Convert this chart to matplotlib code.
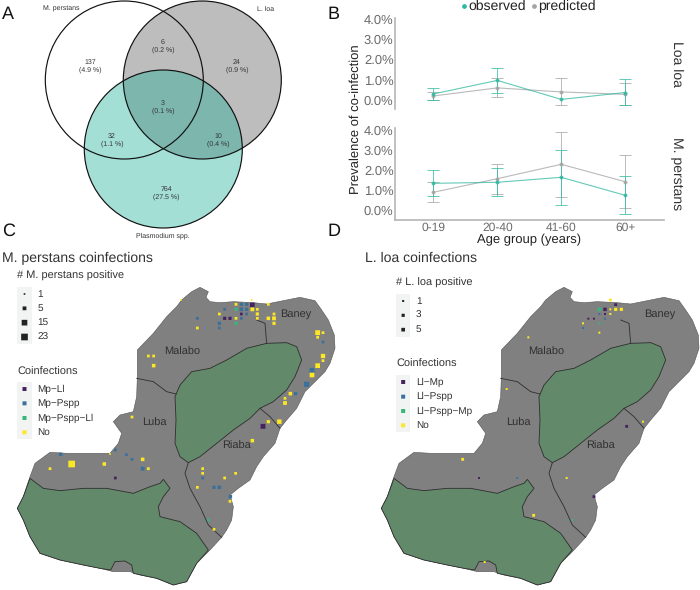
import matplotlib
matplotlib.use("Agg")
import matplotlib.pyplot as plt
from matplotlib.patches import Circle, Polygon, Rectangle
from matplotlib.lines import Line2D
import numpy as np

plt.rcParams['font.family'] = ['Liberation Sans', 'DejaVu Sans']
plt.rcParams['text.hinting'] = 'no_hinting'
plt.rcParams['text.hinting_factor'] = 1
W, H = 700, 590

# ---------- Venn data ----------
venn_sets = ["M. perstans", "L. loa", "Plasmodium spp."]
venn_counts = ["137\n(4.9 %)", "6\n(0.2 %)", "24\n(0.9 %)", "3\n(0.1 %)", "32\n(1.1 %)", "10\n(0.4 %)", "764\n(27.5 %)"]
venn_count_pos = [(90.5, 66), (163, 46), (237, 66), (163, 107), (112, 140), (218, 140), (166, 193)]
venn_centres = [(124.3, 80), (202.3, 80), (163.3, 149)]
venn_radius = 79

# ---------- Line panel data ----------
age_groups = ["0-19", "20-40", "41-60", "60+"]
loa_obs = [0.30, 0.97, 0.03, 0.37]
loa_obs_lo = [0.00, 0.37, 0.03, -0.27]
loa_obs_hi = [0.58, 1.57, 0.03, 1.03]
loa_pred = [0.20, 0.60, 0.40, 0.28]
loa_pred_lo = [0.00, 0.13, -0.27, -0.27]
loa_pred_hi = [0.42, 1.08, 1.08, 0.83]
mp_obs = [1.32, 1.37, 1.62, 0.72]
mp_obs_lo = [0.67, 0.67, 0.23, -0.23]
mp_obs_hi = [1.97, 2.07, 3.00, 1.67]
mp_pred = [0.87, 1.55, 2.27, 1.40]
mp_pred_lo = [0.37, 0.77, 0.63, 0.07]
mp_pred_hi = [1.40, 2.30, 3.90, 2.72]
y_ticks = [0, 1, 2, 3, 4]

# ---------- Map geometry ----------
island = [(545,60),(575,35),(600,22),(625,35),(618,52),(630,65),(660,68),(700,65),(760,68),(800,72),(850,62),
          (900,52),(945,62),(965,90),(985,120),(1003,165),(1005,205),(990,250),(975,275),(945,305),(915,335),
          (890,385),(860,420),(840,445),(825,490),(790,530),(770,560),(750,600),(715,625),(690,645),(700,680),
          (695,720),(680,750),(665,772),(630,810),(590,850),(560,905),(520,915),(470,895),(420,885),(390,875),
          (340,875),(300,865),(250,855),(180,840),(120,820),(90,770),(70,720),(52,685),(70,650),(90,590),
          (105,550),(150,517),(200,520),(280,520),(330,520),(355,490),(365,460),(340,425),(360,405),(400,395),
          (410,350),(412,290),(412,210),(460,160),(500,110),(530,80)]
north_reserve = [(800,190),(860,188),(890,200),(905,240),(885,290),(860,330),(820,365),(780,385),(750,415),(700,450),
                 (650,490),(600,530),(565,548),(540,530),(525,490),(528,420),(525,350),(540,315),(575,275),(630,265),
                 (680,240),(740,205)]
south_reserve = [(90,595),(130,625),(180,632),(250,625),(320,625),(400,640),(450,620),(480,610),(490,598),(510,625),
                 (490,650),(475,680),(480,710),(540,725),(590,760),(625,810),(590,850),(560,905),(520,915),(470,895),
                 (400,880),(395,855),(375,843),(345,845),(332,870),(300,865),(250,855),(180,840),(120,820),(90,770),
                 (70,720),(52,685),(70,650)]
borders = [[(770,120),(795,130),(800,190)],
           [(410,295),(460,305),(500,335),(528,342)],
           [(565,548),(555,580),(570,625),(600,680),(625,735),(665,772)],
           [(780,385),(810,410),(840,445)]]
districts = {"Baney": (888,103), "Malabo": (545,217), "Luba": (462,430), "Riaba": (708,498)}

# ---------- Map points: (x, y, count) ----------
mp_no = [(755,60,1),(708,73,2),(805,73,2),(757,88,5),(772,88,2),(658,102,2),(772,102,3),(822,102,2),(708,115,2),(772,115,2),
         (805,115,4),(822,115,5),(822,130,3),(592,144,2),(953,158,10),(969,158,2),(953,172,2),(445,228,2),(461,228,2),
         (461,257,4),(969,228,7),(969,242,2),(953,257,9),(936,285,9),(871,341,4),(855,355,2),(855,369,5),(396,411,2),
         (805,425,3),(838,425,8),(757,482,4),(428,538,4),(313,552,4),(215,552,23),(445,566,2),(150,566,2),(608,566,2),
         (608,580,2),(707,580,2),(674,594,2),(592,622,2),(690,664,2),(642,748,2),(330,522,1),(543,60,1)]
mp_pspp = [(724,73,3),(740,73,3),(674,88,2),(724,88,5),(740,88,3),(740,102,2),(724,115,2),(592,115,2),(658,130,3),(658,144,2),
           (969,186,2),(936,271,10),(920,313,12),(887,341,3),(346,510,2),(182,523,4),(379,524,2),(396,538,2),(428,566,5),
           (608,594,2),(642,622,3),(658,622,4),(691,650,4)]
mp_ll = [(757,75,9),(724,102,2),(674,115,3),(690,115,3),(789,439,10),(346,594,2)]
mp_triple = [(708,88,3),(708,130,3),(625,720,2)]

ll_no = [(739,60,2),(739,88,1),(755,88,3),(772,88,3),(739,102,1),(657,130,1),(706,158,1),(493,172,1),(428,327,1),(837,425,1),
         (296,538,2),(608,594,1),(509,706,2),(362,846,1)]
ll_pspp = [(706,102,1),(723,116,1),(657,144,1),(460,594,1)]
ll_mp = [(755,74,2),(723,88,4),(723,102,1),(673,116,1),(690,116,1),(788,439,2),(345,594,1),(690,650,2)]
ll_triple = [(706,88,5),(706,130,1),(624,720,1)]

mp_size_levels = [1, 5, 15, 23]
ll_size_levels = [1, 3, 5]
mp_groups = ["Mp\u2212Ll", "Mp\u2212Pspp", "Mp\u2212Pspp\u2212Ll", "No"]
ll_groups = ["Ll\u2212Mp", "Ll\u2212Pspp", "Ll\u2212Pspp\u2212Mp", "No"]
group_colors = ["#46235f", "#3b6f9c", "#35b779", "#fde725"]

GRAY_MAP, GREEN_MAP = "#808080", "#62896a"
TEAL, GREY = "#2fb8a0", "#a3a3a3"
TXT = "#333333"

fig = plt.figure(figsize=(W/100, H/100), dpi=100, facecolor="white")

def px_axes(x, y, w, h):
    return fig.add_axes([x/W, 1-(y+h)/H, w/W, h/H])

def ftext(x, y, s, **kw):
    kw.setdefault("ha", "left"); kw.setdefault("va", "center")
    fig.text(x/W, 1-y/H, s, **kw)

# ---------- A: Venn ----------
ax = px_axes(0, 0, 345, 240)
ax.set_xlim(0, 345); ax.set_ylim(240, 0); ax.axis("off")
ax.add_patch(Circle(venn_centres[1], venn_radius, fc="#bdbdbd", ec="none"))
ax.add_patch(Circle(venn_centres[2], venn_radius, fc=(18/255, 171/255, 147/255, .38), ec="none"))
for c in venn_centres:
    ax.add_patch(Circle(c, venn_radius, fc="none", ec="#111111", lw=0.85))
for s, (x, y) in zip(venn_counts, venn_count_pos):
    ax.text(x, y, s, ha="center", va="center", fontsize=5.4, color=TXT, linespacing=1.35)
ax.text(61, 9, venn_sets[0], ha="center", va="center", fontsize=5.2, color=TXT)
ax.text(266, 9, venn_sets[1], ha="center", va="center", fontsize=5.2, color=TXT)
ax.text(163, 235.5, venn_sets[2], ha="center", va="center", fontsize=5.2, color=TXT)

# ---------- B: line panels ----------
def line_panel(y_top, y_bot, y0, per, series, strip, bottom):
    ax = px_axes(395, y_top, 268.5, y_bot-y_top)
    ax.set_xlim(0.4, 4.6)
    ax.set_ylim((y0-y_bot)/per, (y0-y_top)/per)
    x = np.arange(1, 5)
    for (v, lo, hi, col) in series:
        v, lo, hi = np.array(v), np.array(lo), np.array(hi)
        ax.errorbar(x, v, yerr=[v-lo, hi-v], color=col, lw=0.8, errorevery=list(hi > lo),
                    elinewidth=0.7, capsize=4.6, capthick=0.7, marker="o", ms=1.9, alpha=0.75, clip_on=False)
    for sp in ("top", "right"):
        ax.spines[sp].set_visible(False)
    ax.spines["left"].set_color("#b5b5b5"); ax.spines["left"].set_linewidth(1.2)
    ax.spines["bottom"].set_color("#b5b5b5"); ax.spines["bottom"].set_linewidth(1.2)
    ax.spines["bottom"].set_visible(bottom)
    ax.set_yticks(y_ticks, [f"{t:.1f}%" for t in y_ticks], fontsize=9.2, color="#6a6a6a")
    ax.tick_params(axis="y", length=0, pad=1)
    ax.set_xticks(x, age_groups if bottom else [""]*4, fontsize=8.4, color="#6a6a6a")
    ax.tick_params(axis="x", length=0, pad=2)
    ax.patch.set_alpha(0)
    ax.text(1.024, 0.5, strip, transform=ax.transAxes, rotation=-90, ha="left", va="center", fontsize=10.4, color=TXT)
    return ax

line_panel(18, 109, 100, 20.2, [(loa_pred, loa_pred_lo, loa_pred_hi, GREY), (loa_obs, loa_obs_lo, loa_obs_hi, TEAL)], "Loa loa", False)
line_panel(127.7, 219.7, 209.7, 20, [(mp_pred, mp_pred_lo, mp_pred_hi, GREY), (mp_obs, mp_obs_lo, mp_obs_hi, TEAL)], "M. perstans", True)

ftext(356, 119, "Prevalence of co-infection", rotation=90, ha="center", fontsize=9.4, color="#222222")
ftext(529, 239.5, "Age group (years)", ha="center", fontsize=9.6, color="#222222")
ftext(468.7, 6.5, "observed", fontsize=10.4, color="#222222")
ftext(538.3, 6.5, "predicted", fontsize=10.4, color="#222222")
fig.add_artist(Line2D([464/W], [1-6/H], marker="o", ms=2.4, color=TEAL, transform=fig.transFigure))
fig.add_artist(Line2D([533.7/W], [1-6/H], marker="o", ms=2.4, color=GREY, transform=fig.transFigure))

# ---------- Letters and titles ----------
for s, x, y in [("A", 2, 14), ("B", 328, 14), ("C", 2, 231), ("D", 328, 231)]:
    ftext(x, y, s, fontsize=13, color="#111111")
ftext(2, 258.5, "M. perstans coinfections", fontsize=10.4, color=TXT)
ftext(365, 258.5, "L. loa coinfections", fontsize=10.4, color=TXT)

# ---------- C, D: maps ----------
def draw_map(ax, groups_pts, width_fn, size_levels, groups, size_title, size_title_xy, lg):
    ax.set_xlim(0, 1050); ax.set_ylim(930, 0); ax.axis("off")
    ax.add_patch(Polygon(island, closed=True, fc=GRAY_MAP, ec="#555555", lw=0.4))
    ax.add_patch(Polygon(north_reserve, closed=True, fc=GREEN_MAP, ec="#2e2e2e", lw=0.6))
    ax.add_patch(Polygon(south_reserve, closed=True, fc=GREEN_MAP, ec="#2e2e2e", lw=0.6))
    for b in borders:
        xs, ys = zip(*b)
        ax.plot(xs, ys, color="#2e2e2e", lw=0.6)
    for name, (x, y) in districts.items():
        ax.text(x, y, name, ha="center", va="center", fontsize=8, color="#303030")
    for pts, col in zip(groups_pts, group_colors):
        xs, ys, cs = zip(*pts)
        ax.scatter(xs, ys, s=[(width_fn(c)/3*0.72)**2 for c in cs], marker="s", color=col,
                   linewidths=0, zorder=4, snap=False)
    # size legend
    kx, kw_ = lg["x"], 43
    y0s = lg["size_y"]
    ax.add_patch(Rectangle((kx, y0s[0]-21), kw_, y0s[-1]-y0s[0]+42, fc="#f2f3f3", ec="none"))
    ax.text(size_title_xy[0], size_title_xy[1], size_title, ha="left", va="center", fontsize=7.8, color=TXT)
    ax.scatter([kx+21.5]*len(y0s), y0s, s=[(width_fn(c)/3*0.72)**2 for c in size_levels], marker="s",
               color="#222222", linewidths=0, snap=False)
    for c, y in zip(size_levels, y0s):
        ax.text(kx+60, y, str(c), ha="left", va="center", fontsize=6.9, color=TXT)
    # colour legend
    ys = lg["col_y"]
    ax.add_patch(Rectangle((kx, ys[0]-21), kw_, ys[-1]-ys[0]+42, fc="#f2f3f3", ec="none"))
    ax.text(kx, lg["col_title"], "Coinfections", ha="left", va="center", fontsize=7.8, color=TXT)
    ax.scatter([kx+21.5]*4, ys, s=(12/3*0.72)**2, marker="s", c=group_colors, linewidths=0, snap=False)
    for g, y in zip(groups, ys):
        ax.text(kx+60, y, g, ha="left", va="center", fontsize=6.9, color=TXT)

def mp_width(c):
    return 5 + 15*np.sqrt((c-1)/22)

def ll_width(c):
    return 6 + 5*np.sqrt((c-1)/4)

axC = px_axes(0, 280, 350, 310)
draw_map(axC, [mp_ll, mp_pspp, mp_triple, mp_no], mp_width, mp_size_levels, mp_groups,
         "# M. perstans positive", (52, -12),
         dict(x=52, size_y=[42, 85, 128, 171], col_y=[327, 370, 414, 457], col_title=275))

axD = px_axes(364, 280, 350, 310)
draw_map(axD, [ll_mp, ll_pspp, ll_triple, ll_no], ll_width, ll_size_levels, ll_groups,
         "# L. loa positive", (96, 10),
         dict(x=96, size_y=[63, 106, 149], col_y=[306, 350, 393, 436], col_title=253))

fig.savefig("out.png", dpi=100)
